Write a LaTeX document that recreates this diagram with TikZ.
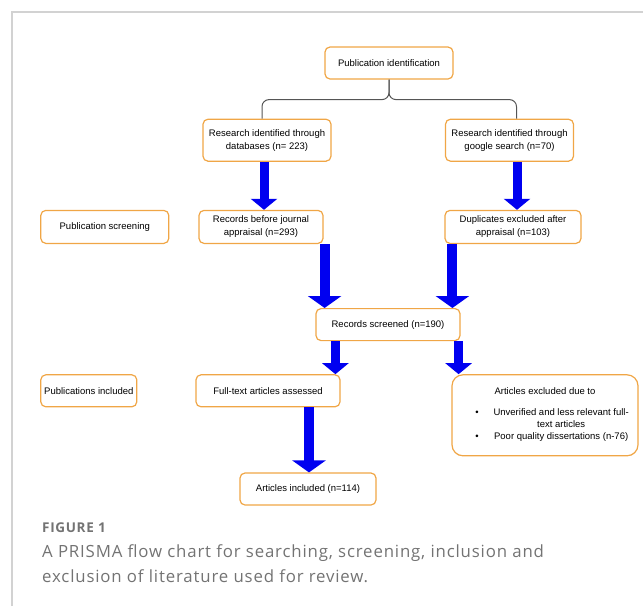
\documentclass[tikz,border=0pt]{standalone}
\usepackage{fontspec}
\setmainfont{Liberation Sans}
\newfontfamily\capfont[LetterSpace=5]{Open Sans}
\usepackage{xcolor}
\usepackage{tikz}
\usetikzlibrary{arrows.meta,positioning,calc}

\definecolor{boxorange}{HTML}{F0A646}
\definecolor{flowblue}{HTML}{0000F0}
\definecolor{linkgray}{HTML}{555555}
\definecolor{framegray}{HTML}{D2D2D2}
\definecolor{capgray}{HTML}{737373}

\begin{document}
\begin{tikzpicture}[
    x=1pt, y=-1pt,
    box/.style={draw=boxorange, line width=1.2pt, rectangle, rounded corners=5pt, fill=white,
                minimum height=32pt, align=center, inner sep=2pt,
                font=\fontsize{9.5}{13}\selectfont},
    flow/.style={line width=9pt, flowblue, -{Triangle[width=26pt,length=11pt]}},
    bigflow/.style={line width=10pt, flowblue, -{Triangle[width=33pt,length=12pt]}},
    brace/.style={draw=linkgray, line width=1pt, rounded corners=7pt},
    node distance=33pt
]
\useasboundingbox (0,0) rectangle (643,606);
\draw[framegray, line width=1.3pt] (12,606) -- (12,12) -- (643,12);

\node[box, minimum width=128pt] (pub) at (389,63) {Publication identification};
\node[box, minimum width=128pt, minimum height=42pt, below=39pt of pub, xshift=-122pt] (db)
  {Research identified through\\ databases (n= 223)};
\node[box, minimum width=128pt, minimum height=42pt, below=39pt of pub, xshift=120.5pt] (goo)
  {Research identified through\\ google search (n=70)};
\node[box, minimum width=124pt, minimum height=33pt, below=48pt of db, xshift=-6pt] (rec)
  {Records before journal\\ appraisal (n=293)};
\node[box, minimum width=136pt, minimum height=33pt, below=48pt of goo, xshift=3.5pt] (dup)
  {Duplicates excluded after\\ appraisal (n=103)};
\node[box, minimum width=128pt, minimum height=33pt, left=29pt of rec] (screenlab) {Publication screening};
\node[box, minimum width=144pt, below=64pt of rec, xshift=127pt] (scr) {Records screened (n=190)};
\node[box, minimum width=144pt, below=of scr, xshift=-120pt] (full) {Full-text articles assessed};
\node[box, minimum width=96pt, left=58pt of full] (inclab) {Publications included};
\node[box, minimum width=186pt, minimum height=81pt, rounded corners=11pt, below=of scr, xshift=157pt] (excl)
  {Articles excluded due to\\[11pt]
   \hspace*{14pt}\begin{tabular}{@{}c@{\hspace{15pt}}c@{}}
   \textbullet & Unverified and less relevant full-\\[-1pt]
               & text articles\\[-1pt]
   \textbullet & Poor quality dissertations (n-76)
   \end{tabular}};
\node[box, minimum width=136pt, below=65pt of full, xshift=40pt] (incl) {Articles included (n=114)};

\coordinate (fork) at ($(pub.south)+(0,20)$);
\draw[brace] ([xshift=-5pt]db.north) |- (fork) -- (pub.south);
\draw[brace] ([xshift=7pt]goo.north) |- (fork) -- (pub.south);

\draw[flow] ([xshift=-3pt]db.south) -- ([xshift=-3pt]db.south |- rec.north);
\draw[flow] ([xshift=7.5pt]goo.south) -- ([xshift=7.5pt]goo.south |- dup.north);
\draw[bigflow] ([xshift=1pt]rec.south east) -- ([xshift=1pt]rec.south east |- scr.north);
\draw[bigflow] ([xshift=8pt]dup.south west) -- ([xshift=8pt]dup.south west |- scr.north);
\draw[flow] ([xshift=20pt]scr.south west) -- ([xshift=20pt]scr.south west |- full.north);
\draw[flow] ([xshift=-2pt]scr.south east) -- ([xshift=-2pt]scr.south east |- excl.north);
\draw[bigflow] ([xshift=1pt]incl.north |- full.south) -- ([xshift=1pt]incl.north);

\node[anchor=base west, inner sep=0pt, text=capgray, font=\capfont\bfseries\fontsize{13.5}{15}\selectfont]
  (figlab) at (42,532) {FIGURE 1};
\node[anchor=base west, inner sep=0pt, text=capgray, align=left, font=\capfont\fontsize{16.8}{25}\selectfont]
  (caption) at (42,582) {A PRISMA flow chart for searching, screening, inclusion and\\
  exclusion of literature used for review.};
\end{tikzpicture}
\end{document}
